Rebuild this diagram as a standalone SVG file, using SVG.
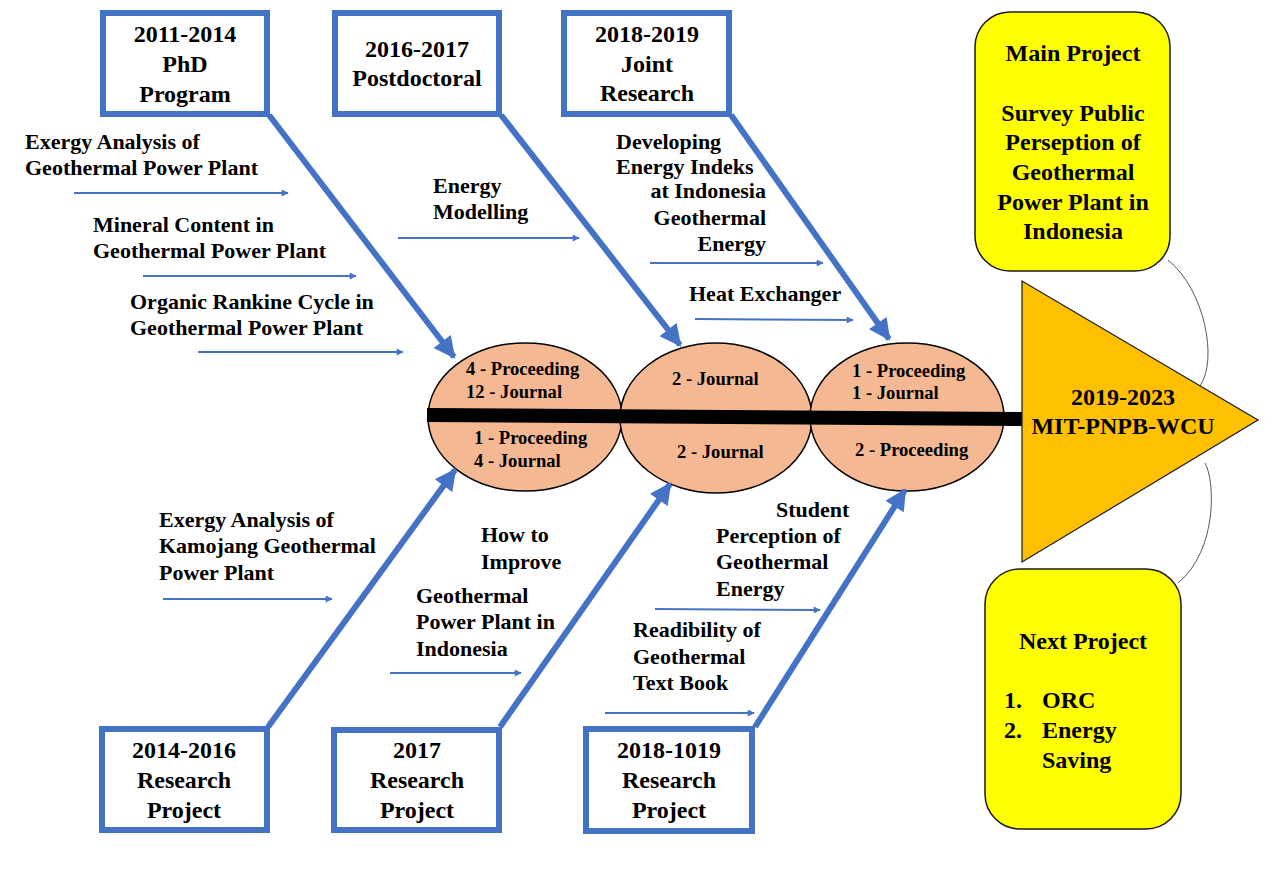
<svg xmlns="http://www.w3.org/2000/svg" width="1272" height="893" viewBox="0 0 1272 893">
<style>
text{font-family:"Liberation Serif","Times New Roman",serif;font-weight:bold;fill:#000}
.bx{fill:#fff;stroke:#4472C4;stroke-width:6}
.bt{font-size:24px;text-anchor:middle}
.lb{font-size:22px}
.et{font-size:18.6px}
.yt{font-size:24px}
.bone{stroke:#4472C4;stroke-width:6;fill:none;marker-end:url(#bigArrow)}
.thin{stroke:#4472C4;stroke-width:2;fill:none;marker-end:url(#smallArrow)}
.ell{fill:#F4B993;stroke:#000;stroke-width:1.5}
.yb{fill:#FFFF00;stroke:#1a1a1a;stroke-width:1.5}
.cv{fill:none;stroke:#595959;stroke-width:1}
</style>
<defs>
<marker id="bigArrow" viewBox="0 0 10 10" refX="9" refY="5" markerWidth="4" markerHeight="3.6" orient="auto" markerUnits="strokeWidth"><path d="M0,0 L10,5 L0,10 Z" fill="#4472C4"/></marker>
<marker id="smallArrow" viewBox="0 0 10 10" refX="9" refY="5" markerWidth="4.5" markerHeight="3.5" orient="auto" markerUnits="strokeWidth"><path d="M0,0 L10,5 L0,10 Z" fill="#4472C4"/></marker>
</defs>
<rect width="1272" height="893" fill="#fff"/>

<g id="ellipses">
<ellipse class="ell" cx="525" cy="417" rx="97" ry="74"/>
<ellipse class="ell" cx="716" cy="418" rx="96" ry="75"/>
<ellipse class="ell" cx="907" cy="417" rx="97" ry="74"/>
</g>

<g id="spine">
<line x1="427" y1="415" x2="1023" y2="419" stroke="#000" stroke-width="14"/>
</g>

<g id="ellipse-text">
<text class="et" x="466" y="375">4 - Proceeding</text>
<text class="et" x="466" y="398">12 - Journal</text>
<text class="et" x="474" y="444">1 - Proceeding</text>
<text class="et" x="474" y="467">4 - Journal</text>
<text class="et" x="672" y="385">2 - Journal</text>
<text class="et" x="677" y="458">2 - Journal</text>
<text class="et" x="852" y="377">1 - Proceeding</text>
<text class="et" x="852" y="399">1 - Journal</text>
<text class="et" x="855" y="456">2 - Proceeding</text>
</g>

<g id="connectors">
<line class="bone" x1="269" y1="115" x2="454" y2="357"/>
<line class="bone" x1="501" y1="115" x2="680" y2="345"/>
<line class="bone" x1="731" y1="115" x2="889" y2="339"/>
<line class="bone" x1="268" y1="727" x2="455" y2="470"/>
<line class="bone" x1="500" y1="727" x2="670" y2="484"/>
<line class="bone" x1="755" y1="727" x2="905" y2="490"/>
<line class="thin" x1="74" y1="193" x2="288" y2="193"/>
<line class="thin" x1="143" y1="276" x2="356" y2="276"/>
<line class="thin" x1="198" y1="352" x2="403" y2="352"/>
<line class="thin" x1="398" y1="238" x2="579" y2="238"/>
<line class="thin" x1="650" y1="263" x2="823" y2="263"/>
<line class="thin" x1="695" y1="319" x2="853" y2="320"/>
<line class="thin" x1="163" y1="599" x2="332" y2="599"/>
<line class="thin" x1="390" y1="673" x2="521" y2="673"/>
<line class="thin" x1="655" y1="609" x2="820" y2="610"/>
<line class="thin" x1="605" y1="713" x2="754" y2="713"/>
<path class="cv" d="M1168,260 C1205,290 1218,360 1200,386"/>
<path class="cv" d="M1205,463 C1215,480 1218,550 1178,583"/>
</g>

<g id="box-phd">
<rect class="bx" x="103" y="13" width="164" height="101"/>
<text class="bt" x="185" y="42">2011-2014</text>
<text class="bt" x="185" y="72">PhD</text>
<text class="bt" x="185" y="102">Program</text>
</g>
<g id="box-postdoc">
<rect class="bx" x="335" y="13" width="164" height="101"/>
<text class="bt" x="417" y="57">2016-2017</text>
<text class="bt" x="417" y="86">Postdoctoral</text>
</g>
<g id="box-joint">
<rect class="bx" x="564" y="13" width="165" height="101"/>
<text class="bt" x="647" y="42">2018-2019</text>
<text class="bt" x="647" y="72">Joint</text>
<text class="bt" x="647" y="101">Research</text>
</g>
<g id="box-2014">
<rect class="bx" x="102" y="729" width="165" height="101"/>
<text class="bt" x="184" y="758">2014-2016</text>
<text class="bt" x="184" y="788">Research</text>
<text class="bt" x="184" y="818">Project</text>
</g>
<g id="box-2017">
<rect class="bx" x="334" y="730" width="165" height="100"/>
<text class="bt" x="417" y="758">2017</text>
<text class="bt" x="417" y="788">Research</text>
<text class="bt" x="417" y="818">Project</text>
</g>
<g id="box-2018">
<rect class="bx" x="586" y="729" width="166" height="102"/>
<text class="bt" x="669" y="758">2018-1019</text>
<text class="bt" x="669" y="788">Research</text>
<text class="bt" x="669" y="818">Project</text>
</g>

<g id="labels">
<text class="lb" x="25" y="149">Exergy Analysis of</text>
<text class="lb" x="25" y="175">Geothermal Power Plant</text>
<text class="lb" x="93" y="232">Mineral Content in</text>
<text class="lb" x="93" y="258">Geothermal Power Plant</text>
<text class="lb" x="130" y="309">Organic Rankine Cycle in</text>
<text class="lb" x="130" y="335">Geothermal Power Plant</text>
<text class="lb" x="433" y="193">Energy</text>
<text class="lb" x="433" y="219">Modelling</text>
<text class="lb" x="616" y="149">Developing</text>
<text class="lb" x="616" y="174">Energy Indeks</text>
<text class="lb" x="766" y="198" text-anchor="end">at Indonesia</text>
<text class="lb" x="766" y="225" text-anchor="end">Geothermal</text>
<text class="lb" x="766" y="251" text-anchor="end">Energy</text>
<text class="lb" x="689" y="301">Heat Exchanger</text>
<text class="lb" x="159" y="527">Exergy Analysis of</text>
<text class="lb" x="159" y="553">Kamojang Geothermal</text>
<text class="lb" x="159" y="580">Power Plant</text>
<text class="lb" x="481" y="542">How to</text>
<text class="lb" x="481" y="569">Improve</text>
<text class="lb" x="416" y="603">Geothermal</text>
<text class="lb" x="416" y="629">Power Plant in</text>
<text class="lb" x="416" y="656">Indonesia</text>
<text class="lb" x="776" y="517">Student</text>
<text class="lb" x="716" y="543">Perception of</text>
<text class="lb" x="716" y="569">Geothermal</text>
<text class="lb" x="716" y="596">Energy</text>
<text class="lb" x="633" y="637">Readibility of</text>
<text class="lb" x="633" y="664">Geothermal</text>
<text class="lb" x="633" y="690">Text Book</text>
</g>

<g id="main-project">
<rect class="yb" x="975" y="12" width="195" height="259" rx="35" ry="35"/>
<text class="yt" x="1073" y="61" text-anchor="middle">Main Project</text>
<text class="yt" x="1073" y="121" text-anchor="middle">Survey Public</text>
<text class="yt" x="1073" y="150" text-anchor="middle">Perseption of</text>
<text class="yt" x="1073" y="180" text-anchor="middle">Geothermal</text>
<text class="yt" x="1073" y="210" text-anchor="middle">Power Plant in</text>
<text class="yt" x="1073" y="239" text-anchor="middle">Indonesia</text>
</g>

<g id="goal">
<polygon points="1022,281 1022,562 1258,420" fill="#FFC000" stroke="#1a1a1a" stroke-width="1.2"/>
<text class="yt" x="1123" y="405" text-anchor="middle">2019-2023</text>
<text class="yt" x="1123" y="434" text-anchor="middle">MIT-PNPB-WCU</text>
</g>

<g id="next-project">
<rect class="yb" x="985" y="569" width="196" height="260" rx="35" ry="35"/>
<text class="yt" x="1083" y="649" text-anchor="middle">Next Project</text>
<text class="yt" x="1004" y="708">1.</text>
<text class="yt" x="1042" y="708">ORC</text>
<text class="yt" x="1004" y="738">2.</text>
<text class="yt" x="1042" y="738">Energy</text>
<text class="yt" x="1042" y="768">Saving</text>
</g>
</svg>
